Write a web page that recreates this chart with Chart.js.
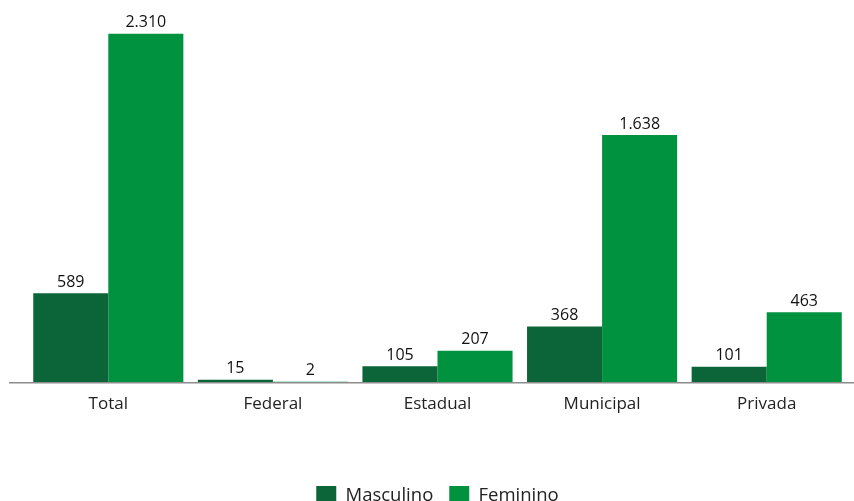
<!DOCTYPE html>
<html>
<head>
<meta charset="utf-8">
<script src="https://cdn.jsdelivr.net/npm/chart.js@4"></script>
<style>
html,body{margin:0;padding:0;background:#fff;overflow:hidden;width:854px;height:501px;}
#wrap{position:relative;width:854px;height:520px;}
</style>
</head>
<body>
<div id="wrap"><canvas id="c" width="854" height="520"></canvas></div>
<script>
const categories = ["Total", "Federal", "Estadual", "Municipal", "Privada"];
const masculino = [589, 15, 105, 368, 101];
const feminino = [2310, 2, 207, 1638, 463];
const seriesNames = ["Masculino", "Feminino"];

const FONT = "'Open Sans', Lato, sans-serif";
function fmt(v){ return String(v).replace(/\B(?=(\d{3})+(?!\d))/g, "."); }

const valueLabels = {
  id: "valueLabels",
  afterDatasetsDraw(chart){
    const ctx = chart.ctx;
    ctx.save();
    ctx.font = "16px " + FONT;
    ctx.fillStyle = "#111";
    ctx.textAlign = "center";
    ctx.textBaseline = "bottom";
    chart.data.datasets.forEach((ds, i) => {
      chart.getDatasetMeta(i).data.forEach((el, j) => {
        ctx.fillText(fmt(ds.data[j]), el.x, el.y - 3);
      });
    });
    ctx.restore();
  }
};
const axisLine = {
  id: "axisLine",
  afterDatasetsDraw(chart){
    const ctx = chart.ctx, a = chart.chartArea;
    ctx.save();
    ctx.strokeStyle = "#8c8c8c";
    ctx.lineWidth = 1.5;
    ctx.beginPath();
    ctx.moveTo(9, a.bottom + 0.75);
    ctx.lineTo(854, a.bottom + 0.75);
    ctx.stroke();
    ctx.restore();
  }
};

new Chart(document.getElementById("c"), {
  type: "bar",
  data: {
    labels: categories,
    datasets: [
      { label: seriesNames[0], data: masculino, backgroundColor: "#0b6538" },
      { label: seriesNames[1], data: feminino, backgroundColor: "#00923f" }
    ]
  },
  options: {
    responsive: false,
    animation: false,
    layout: { padding: { top: 5, left: 26, right: 5, bottom: 4 } },
    datasets: { bar: { categoryPercentage: 0.912, barPercentage: 1.0 } },
    scales: {
      x: {
        grid: { display: false, drawTicks: false },
        border: { display: false },
        ticks: { color: "#222", font: { family: FONT, size: 17 }, padding: 12 },
        afterFit: (s) => { s.height = 88; }
      },
      y: { display: false, min: 0, max: 2500 }
    },
    plugins: {
      legend: {
        position: "bottom",
        labels: {
          boxWidth: 20, boxHeight: 20, padding: 16, color: "#222",
          font: { family: FONT, size: 18.5 }
        }
      },
      tooltip: { enabled: false }
    }
  },
  plugins: [valueLabels, axisLine]
});
</script>
</body>
</html>
